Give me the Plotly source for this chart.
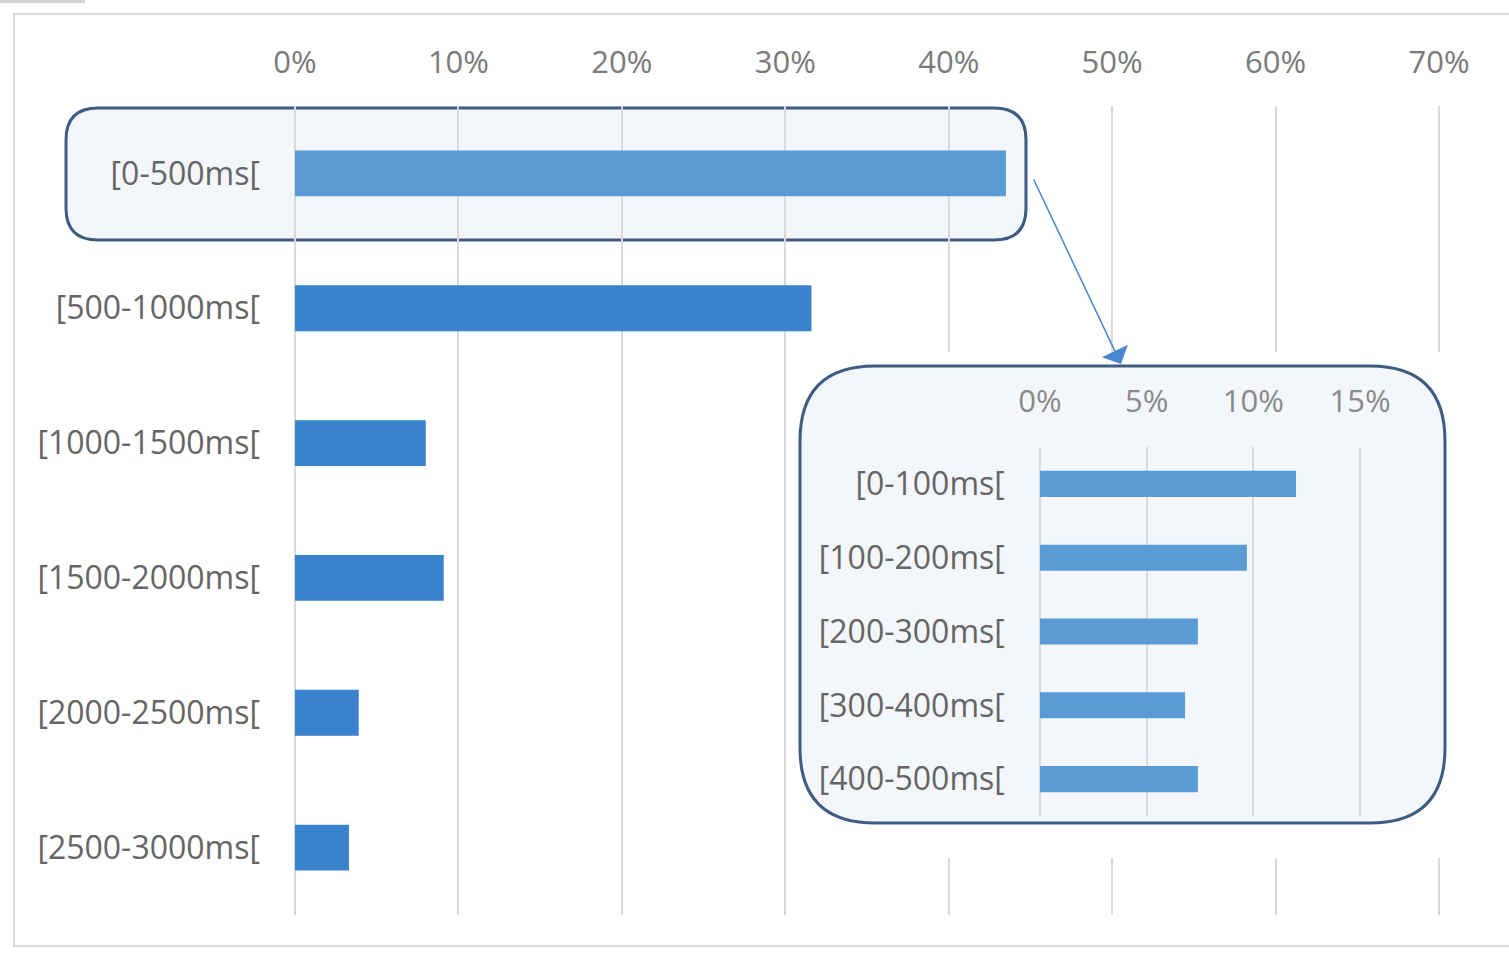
import plotly.graph_objects as go

W, H = 1509, 956

# ---- data ----
main_categories = ["[0-500ms[", "[500-1000ms[", "[1000-1500ms[", "[1500-2000ms[",
                   "[2000-2500ms[", "[2500-3000ms["]
main_values = [43.5, 31.6, 8.0, 9.1, 3.9, 3.3]
main_ticks = [0, 10, 20, 30, 40, 50, 60, 70]

inset_categories = ["[0-100ms[", "[100-200ms[", "[200-300ms[", "[300-400ms[", "[400-500ms["]
inset_values = [12.0, 9.7, 7.4, 6.8, 7.4]
inset_ticks = [0, 5, 10, 15]

# ---- styles ----
FONT = "Open Sans"
BASE = "#3A82CE"
LIGHT = "#5B9BD5"
BOX_FILL = "#F3F7FB"
BOX_LINE = "#3E5C82"
GRID = "#D9D9D9"


def px(x):
    return x / W


def py(y):
    return 1 - y / H


def rounded_path(x0, y0, x1, y1, r, fx=lambda v: v, fy=lambda v: v):
    pts = [
        ("M", [(x0 + r, y0)]), ("L", [(x1 - r, y0)]), ("Q", [(x1, y0), (x1, y0 + r)]),
        ("L", [(x1, y1 - r)]), ("Q", [(x1, y1), (x1 - r, y1)]),
        ("L", [(x0 + r, y1)]), ("Q", [(x0, y1), (x0, y1 - r)]),
        ("L", [(x0, y0 + r)]), ("Q", [(x0, y0), (x0 + r, y0)]),
    ]
    s = ""
    for cmd, coords in pts:
        s += cmd + " " + " ".join(f"{fx(a):.5f},{fy(b):.5f}" for a, b in coords) + " "
    return s + "Z"


def axis_domain(p0, p1, v0, v1, lo, hi):
    """pixel domain so that value v0 sits at pixel p0 and v1 at p1, range [lo, hi]"""
    s = (p1 - p0) / (v1 - v0)
    return [px(p0 + (lo - v0) * s), px(p0 + (hi - v0) * s)]


fig = go.Figure()

main_colors = [LIGHT if i == 0 else BASE for i in range(len(main_values))]
fig.add_trace(go.Bar(
    y=main_categories, x=main_values, orientation="h",
    marker=dict(color=main_colors, line=dict(width=0)),
    xaxis="x", yaxis="y", showlegend=False, hoverinfo="skip",
))

# helper (empty) subplot used to host the inset frame shapes
fig.add_trace(go.Scatter(x=[], y=[], xaxis="x2", yaxis="y2", showlegend=False, hoverinfo="skip"))

fig.add_trace(go.Bar(
    y=inset_categories, x=inset_values, orientation="h",
    marker=dict(color=LIGHT, line=dict(width=0)),
    xaxis="x3", yaxis="y3", showlegend=False, hoverinfo="skip",
))

tickfont_main = dict(family=FONT, size=31, color="#7A7A7A")
catfont = dict(family=FONT, size=32, color="#656565")

MAIN_RANGE = [-0.25, 70.25]
INSET_RANGE = [-0.2, 18]

fig.update_layout(
    width=W, height=H, autosize=False,
    margin=dict(l=0, r=0, t=0, b=0, pad=0, autoexpand=False),
    paper_bgcolor="white", plot_bgcolor="rgba(0,0,0,0)",
    bargap=0.66,
    xaxis=dict(
        domain=axis_domain(295, 1439, 0, 70, *MAIN_RANGE), range=MAIN_RANGE,
        side="top", anchor="y",
        tickvals=main_ticks, ticktext=[f"{t}%" for t in main_ticks],
        showgrid=True, gridcolor=GRID, gridwidth=2, zeroline=False, automargin=False,
        showline=False, ticks="", tickfont=tickfont_main, ticklabelstandoff=26,
    ),
    yaxis=dict(
        domain=[py(915), py(106)], type="category", anchor="x", automargin=False,
        categoryorder="array", categoryarray=main_categories, autorange="reversed",
        showgrid=False, zeroline=False, showline=False, ticks="",
        tickfont=catfont, ticklabelstandoff=30,
    ),
    xaxis2=dict(domain=[px(790), px(1465)], range=[790, 1465], anchor="y2", automargin=False,
                visible=False, showgrid=False, zeroline=False, fixedrange=True),
    yaxis2=dict(domain=[py(860), py(350)], range=[860, 350], anchor="x2", automargin=False,
                visible=False, showgrid=False, zeroline=False, fixedrange=True),
    xaxis3=dict(
        domain=axis_domain(1040, 1360, 0, 15, *INSET_RANGE), range=INSET_RANGE,
        side="top", anchor="y3", automargin=False,
        tickvals=inset_ticks, ticktext=[f"{t}%" for t in inset_ticks],
        showgrid=True, gridcolor=GRID, gridwidth=2, zeroline=False,
        showline=False, ticks="", tickfont=dict(family=FONT, size=31, color="#8A8A8A"),
        ticklabelstandoff=28,
    ),
    yaxis3=dict(
        domain=[py(816), py(447)], type="category", anchor="x3", automargin=False,
        categoryorder="array", categoryarray=inset_categories, autorange="reversed",
        showgrid=False, zeroline=False, showline=False, ticks="",
        tickfont=catfont, ticklabelstandoff=30,
    ),
)

# inset bars have their own bar spacing
fig.data[2].update(width=0.353)

shapes = []
# outer light frame
shapes.append(dict(type="rect", xref="paper", yref="paper", layer="below",
                   x0=px(14), x1=px(1530), y0=py(946), y1=py(14),
                   line=dict(color="#DADADA", width=2), fillcolor="white"))
shapes.append(dict(type="rect", xref="paper", yref="paper", layer="below",
                   x0=0, x1=px(85), y0=py(3), y1=1,
                   line=dict(width=0), fillcolor="#D4D4D4"))
# highlight box around the first bar (beneath gridlines)
shapes.append(dict(type="path", xref="paper", yref="paper", layer="below",
                   path=rounded_path(66, 108, 1026, 240, 32, px, py),
                   fillcolor=BOX_FILL, line=dict(color=BOX_LINE, width=3)))
# inset frame (hosted in helper subplot so it covers the main gridlines)
shapes.append(dict(type="rect", xref="x2", yref="y2", layer="below",
                   x0=792, x1=1463, y0=352, y1=858,
                   fillcolor="white", line=dict(width=0)))
shapes.append(dict(type="path", xref="x2", yref="y2", layer="below",
                   path=rounded_path(800, 366, 1445, 823, 75),
                   fillcolor=BOX_FILL, line=dict(color=BOX_LINE, width=3)))
fig.update_layout(shapes=shapes)

fig.add_annotation(
    x=px(1121), y=py(364), xref="paper", yref="paper", text="",
    showarrow=True, ax=-88, ay=-186, axref="pixel", ayref="pixel",
    arrowhead=1, arrowsize=3.2, arrowwidth=1.5, arrowcolor="#4A86D0", standoff=0,
)

fig.write_html("out.html")
